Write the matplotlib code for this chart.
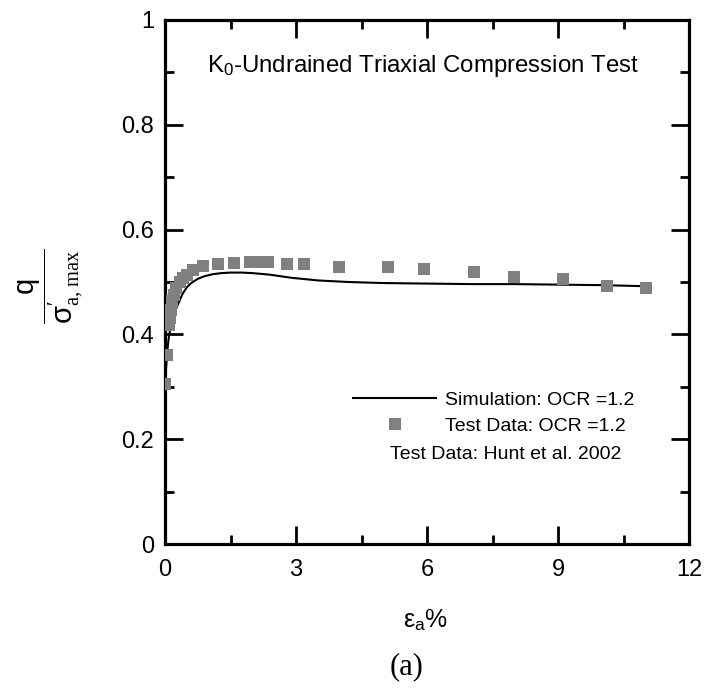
import matplotlib
matplotlib.use("Agg")
import matplotlib.pyplot as plt
from matplotlib.ticker import MultipleLocator

plt.rcParams["font.family"] = ["Liberation Sans", "DejaVu Sans"]
plt.rcParams["mathtext.fontset"] = "custom"
plt.rcParams["mathtext.rm"] = "Liberation Serif"
plt.rcParams["mathtext.it"] = "Liberation Serif:italic"
plt.rcParams["mathtext.sf"] = "Liberation Sans"

# ── Data ──────────────────────────────────────────────────────────────────────
# simulated q / sigma'_a,max vs axial strain (%)
sim_strain = [0.0, 0.02, 0.05, 0.08, 0.11, 0.15, 0.2, 0.25, 0.3, 0.4, 0.5, 0.6,
              0.75, 0.9, 1.1, 1.3, 1.5, 1.75, 2.0, 2.4, 2.9, 3.5, 4.2, 5.0,
              6.0, 7.0, 8.0, 9.0, 10.0, 11.0]
sim_ratio = [0.300, 0.330, 0.365, 0.390, 0.405, 0.424, 0.437, 0.448, 0.458,
             0.477, 0.490, 0.498, 0.506, 0.511, 0.515, 0.517, 0.518, 0.518,
             0.517, 0.514, 0.508, 0.503, 0.500, 0.498, 0.497, 0.496, 0.496,
             0.495, 0.494, 0.492]

# measured (Hunt et al. 2002)
test_strain = [0.0, 0.05, 0.10, 0.12, 0.14, 0.17, 0.20, 0.25, 0.34, 0.42, 0.50,
               0.65, 0.88, 1.22, 1.58, 1.95, 2.10, 2.37, 2.79, 3.18, 3.99, 5.10,
               5.93, 7.08, 8.00, 9.11, 10.11, 11.01]
test_ratio = [0.305, 0.360, 0.418, 0.432, 0.447, 0.463, 0.476, 0.488, 0.500,
              0.508, 0.513, 0.522, 0.531, 0.534, 0.536, 0.539, 0.539, 0.538,
              0.534, 0.534, 0.529, 0.529, 0.524, 0.520, 0.509, 0.505, 0.493,
              0.489]

y_ticks = [0, 0.2, 0.4, 0.6, 0.8, 1.0]
y_tick_labels = ["0", "0.2", "0.4", "0.6", "0.8", "1"]

# ── Figure ────────────────────────────────────────────────────────────────────
fig = plt.figure(figsize=(7.06, 6.94), dpi=100)
ax = fig.add_axes([0.2337, 0.2161, 0.7423, 0.7551])

ax.plot(sim_strain, sim_ratio, color="black", linewidth=1.5,
        label="Simulation: OCR =1.2", zorder=3)
ax.plot(test_strain, test_ratio, linestyle="none", marker="s", markersize=8.5,
        color="#808080", markeredgewidth=0, label="Test Data: OCR =1.2", zorder=4)

ax.set_xlim(0, 12)
ax.set_ylim(0, 1)
ax.xaxis.set_major_locator(MultipleLocator(3))
ax.xaxis.set_minor_locator(MultipleLocator(1.5))
ax.yaxis.set_minor_locator(MultipleLocator(0.1))
ax.set_yticks(y_ticks)
ax.set_yticklabels(y_tick_labels)

for sp in ax.spines.values():
    sp.set_linewidth(2.3)
ax.tick_params(which="both", direction="in", top=True, right=True,
               width=2.0, labelsize=17)
ax.tick_params(axis="x", pad=11)
ax.tick_params(axis="y", pad=8)
ax.tick_params(which="major", length=13)
ax.tick_params(which="minor", length=6.5)

ax.text(0.492, 0.912, r"K$_\mathsf{0}$-Undrained Triaxial Compression Test",
        transform=ax.transAxes, ha="center", va="center", fontsize=17.3)

leg = ax.legend(loc="upper left", bbox_to_anchor=(0.325, 0.325), frameon=False,
                fontsize=14, handlelength=4.3, handletextpad=0.45,
                labelspacing=0.45, numpoints=1)
ax.text(0.429, 0.171, "Test Data: Hunt et al. 2002", transform=ax.transAxes,
        ha="left", va="center", fontsize=14)

fig.text(425 / 706, 1 - 620 / 694, r"ε$_\mathsf{a}$%", ha="center",
         va="center", fontsize=18)
fig.text(51 / 706, 1 - 286 / 694,
         r"$\dfrac{\mathsf{q}}{\mathsf{σ}^{\prime}_{\mathrm{a,\,max}}}$",
         rotation=90, ha="center", va="center", fontsize=21)
fig.text(407 / 706, 1 - 667 / 694, "(a)", ha="center", va="center",
         fontsize=22, family="Liberation Serif")

fig.savefig("out.png", dpi=100, facecolor="white")
